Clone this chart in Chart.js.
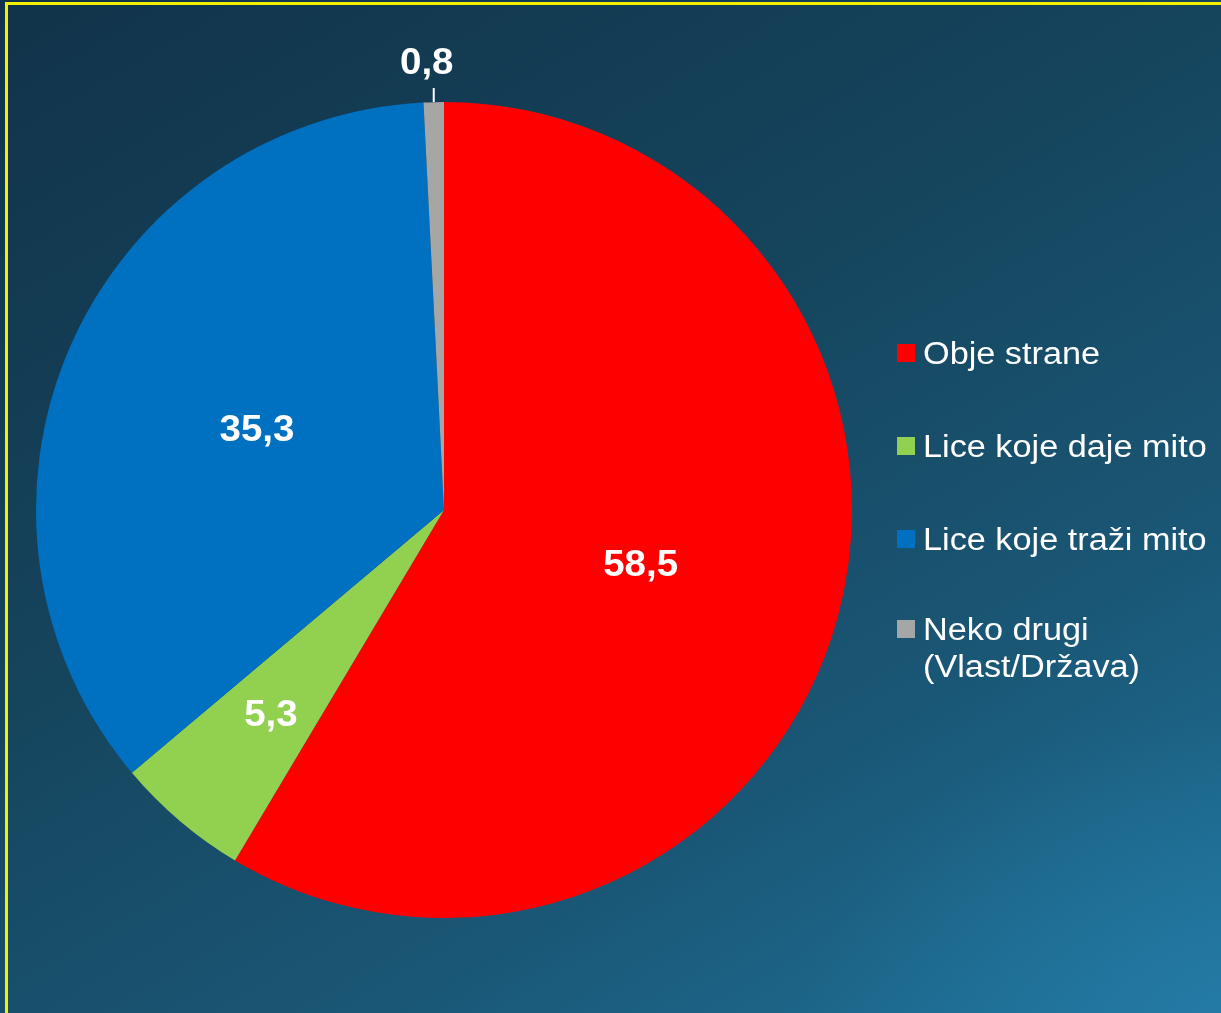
<!DOCTYPE html>
<html>
<head>
<meta charset="utf-8">
<script src="https://cdn.jsdelivr.net/npm/chart.js@4.4.1/dist/chart.umd.min.js"></script>
<style>
  html, body { margin: 0; padding: 0; }
  body {
    width: 1221px; height: 1013px; overflow: hidden; position: relative;
    background:
      radial-gradient(ellipse 420px 300px at 1221px 1013px, rgba(40,130,175,0.5), rgba(40,130,175,0) 100%),
      linear-gradient(150deg, #11334a 0%, #15445c 40%, #1a5776 72%, #1f739b 100%);
  }
  #frame {
    position: absolute; left: 5px; top: 2px; right: -10px; bottom: -10px;
    border-left: 3px solid #f5f000; border-top: 3px solid #f5f000;
  }
  #wrap { position: absolute; left: 0; top: 0; width: 1221px; height: 1013px; }
</style>
</head>
<body>
<div id="frame"></div>
<div id="wrap"><canvas id="pie"></canvas></div>
<script>
const categories = ['Obje strane', 'Lice koje daje mito', 'Lice koje traži mito', ['Neko drugi', '(Vlast/Država)']];
const values = [58.5, 5.3, 35.3, 0.8];
const valueLabels = ['58,5', '5,3', '35,3', '0,8'];
const colors = ['#ff0000', '#92d050', '#0070c0', '#a6a6a6'];

// text is a bit wider in the original, stretch it horizontally
function wideText(ctx, t, x, y, sx) {
  ctx.save();
  ctx.translate(x, y);
  ctx.scale(sx, 1);
  ctx.fillText(t, 0, 0);
  ctx.restore();
}

// labels inside slices, small one outside with leader line
const sliceLabels = {
  id: 'sliceLabels',
  afterDatasetsDraw(chart) {
    const ctx = chart.ctx;
    const meta = chart.getDatasetMeta(0);
    const place = [0.5, 0.655, 0.5, -1];
    ctx.save();
    ctx.font = 'bold 36px "Liberation Sans", Arial, sans-serif';
    ctx.fillStyle = '#ffffff';
    ctx.textAlign = 'center';
    ctx.textBaseline = 'middle';
    meta.data.forEach((arc, i) => {
      const mid = (arc.startAngle + arc.endAngle) / 2;
      const r = arc.outerRadius;
      if (place[i] > 0) {
        wideText(ctx, valueLabels[i], arc.x + Math.cos(mid) * r * place[i], arc.y + Math.sin(mid) * r * place[i] + 2, 1.07);
      } else {
        const lx = arc.x + Math.cos(mid) * r;
        ctx.strokeStyle = '#ffffff';
        ctx.lineWidth = 2;
        ctx.beginPath();
        ctx.moveTo(lx, arc.y - r);
        ctx.lineTo(lx, arc.y - r - 14);
        ctx.stroke();
        wideText(ctx, valueLabels[i], lx - 7, arc.y - r - 38, 1.07);
      }
    });
    ctx.restore();
  }
};

// legend on the right with wrapped last entry
const sideLegend = {
  id: 'sideLegend',
  afterDraw(chart) {
    const ctx = chart.ctx;
    const rowY = [353, 446, 539, 629];
    ctx.save();
    ctx.font = '31px "Liberation Sans", Arial, sans-serif';
    ctx.textBaseline = 'middle';
    ctx.textAlign = 'left';
    categories.forEach((c, i) => {
      ctx.fillStyle = colors[i];
      ctx.fillRect(897, rowY[i] - 9, 18, 18);
      ctx.fillStyle = '#ffffff';
      const lines = Array.isArray(c) ? c : [c];
      lines.forEach((t, j) => wideText(ctx, t, 923, rowY[i] + 2 + j * 37, 1.105));
    });
    ctx.restore();
  }
};

new Chart(document.getElementById('pie'), {
  type: 'pie',
  data: {
    labels: categories,
    datasets: [{
      data: values,
      backgroundColor: colors,
      borderWidth: 0
    }]
  },
  options: {
    responsive: true,
    maintainAspectRatio: false,
    animation: false,
    layout: { padding: { left: 36, top: 102, right: 369, bottom: 95 } },
    plugins: {
      legend: { display: false },
      tooltip: { enabled: false }
    }
  },
  plugins: [sliceLabels, sideLegend]
});
</script>
</body>
</html>
